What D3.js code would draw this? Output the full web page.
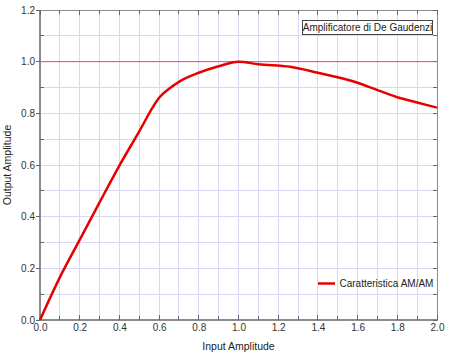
<!DOCTYPE html>
<html><head><meta charset="utf-8">
<script src="https://cdn.jsdelivr.net/npm/d3@7"></script>
<style>body{margin:0;background:#fff}svg{display:block;font-family:"Liberation Sans",Arial,sans-serif}</style>
</head><body><svg id="c" width="458" height="354"></svg>
<script>
const inputAmp = [0,0.1,0.2,0.3,0.4,0.5,0.57,0.6,0.65,0.7,0.8,0.9,1.0,1.1,1.26,1.4,1.58,1.7,1.8,1.9,2.0];
const outputAmp = [0,0.165,0.31,0.455,0.598,0.73,0.826,0.86,0.895,0.922,0.957,0.982,1.0,0.99,0.98,0.957,0.923,0.89,0.862,0.842,0.822];
const refLevel = [1.0];
const xTicks = [0,0.2,0.4,0.6,0.8,1.0,1.2,1.4,1.6,1.8,2.0];
const yTicks = [0,0.2,0.4,0.6,0.8,1.0,1.2];
const seriesName = "Caratteristica AM/AM";
const title = "Amplificatore di De Gaudenzi";

const svg = d3.select("#c");
const L=40,R=437,T=10,B=320;
const x = d3.scaleLinear().domain([0,2]).range([L,R]);
const y = d3.scaleLinear().domain([0,1.2]).range([B,T]);
const minorX = d3.range(0,2.0001,0.1), minorY = d3.range(0,1.2001,0.1);

const g = svg.append("g");
g.selectAll(".gx").data(minorX.slice(1,-1)).join("line")
 .attr("x1",d=>x(d)).attr("x2",d=>x(d)).attr("y1",T).attr("y2",B)
 .attr("stroke","#d8d8f6").attr("stroke-width",1).attr("shape-rendering","crispEdges");
g.selectAll(".gy").data(minorY.slice(1,-1)).join("line")
 .attr("y1",d=>y(d)).attr("y2",d=>y(d)).attr("x1",L).attr("x2",R)
 .attr("stroke","#d8d8f6").attr("stroke-width",1).attr("shape-rendering","crispEdges");

g.append("rect").attr("x",L).attr("y",T).attr("width",R-L).attr("height",B-T)
 .attr("fill","none").attr("stroke","#8c8c8c").attr("stroke-width",1).attr("shape-rendering","crispEdges");
g.append("line").attr("x1",L).attr("x2",L).attr("y1",T).attr("y2",B).attr("stroke","#8c8c8c").attr("stroke-width",2);
g.append("line").attr("x1",L).attr("x2",R).attr("y1",B).attr("y2",B).attr("stroke","#8c8c8c").attr("stroke-width",2);

const xAxis = d3.axisBottom(x).tickValues(xTicks).tickFormat(d3.format(".1f")).tickSize(0).tickPadding(4);
const ax = svg.append("g").attr("transform",`translate(0,${B})`).call(xAxis);
ax.select(".domain").remove();
ax.selectAll("text").attr("font-size",10).attr("fill","#333").attr("font-family","Liberation Sans, Arial, sans-serif");
const yAxis = d3.axisLeft(y).tickValues(yTicks).tickFormat(d3.format(".1f")).tickSize(0).tickPadding(5);
const ay = svg.append("g").attr("transform",`translate(${L},0)`).call(yAxis);
ay.select(".domain").remove();
ay.selectAll("text").attr("font-size",10).attr("fill","#333").attr("font-family","Liberation Sans, Arial, sans-serif");

const tk = svg.append("g").attr("stroke","#666").attr("stroke-width",1).attr("shape-rendering","crispEdges");
minorX.forEach((d,i)=>{
  const len = i%2===0?5:4;
  tk.append("line").attr("x1",x(d)).attr("x2",x(d)).attr("y1",B).attr("y2",B-len);
  tk.append("line").attr("x1",x(d)).attr("x2",x(d)).attr("y1",T).attr("y2",T+len);
});
minorY.forEach((d,i)=>{
  if(i%2===0){ tk.append("line").attr("x1",L-4).attr("x2",L).attr("y1",y(d)).attr("y2",y(d)); }
  else { tk.append("line").attr("x1",L).attr("x2",L+4).attr("y1",y(d)).attr("y2",y(d)); }
  tk.append("line").attr("x1",R).attr("x2",R-4).attr("y1",y(d)).attr("y2",y(d));
});

svg.selectAll(".ref").data(refLevel).join("line")
 .attr("x1",L).attr("x2",R).attr("y1",d=>y(d)).attr("y2",d=>y(d))
 .attr("stroke","#f05050").attr("stroke-width",1);

const pts = inputAmp.map((v,i)=>[v,outputAmp[i]]);
svg.append("path").datum(pts)
 .attr("d",d3.line().x(d=>x(d[0])).y(d=>y(d[1])).curve(d3.curveMonotoneX))
 .attr("fill","none").attr("stroke","#e80000").attr("stroke-width",2.5).attr("stroke-linejoin","round");

const tb = svg.append("g");
tb.append("rect").attr("x",302.5).attr("y",20.5).attr("width",130).attr("height",14)
 .attr("fill","#fff").attr("stroke","#444").attr("stroke-width",1);
tb.append("text").attr("x",367.5).attr("y",31).attr("text-anchor","middle")
 .attr("font-size",10).attr("fill","#222").text(title);

svg.append("line").attr("x1",318).attr("x2",335).attr("y1",283.5).attr("y2",283.5)
 .attr("stroke","#e80000").attr("stroke-width",2.5);
svg.append("text").attr("x",339.5).attr("y",287).attr("font-size",10).attr("fill","#222").text(seriesName);

svg.append("text").attr("x",(L+R)/2).attr("y",350).attr("text-anchor","middle")
 .attr("font-size",10.5).attr("fill","#222").text("Input Amplitude");
svg.append("text").attr("transform",`translate(11,${(T+B)/2}) rotate(-90)`).attr("text-anchor","middle")
 .attr("font-size",10.5).attr("fill","#222").text("Output Amplitude");
</script></body></html>
